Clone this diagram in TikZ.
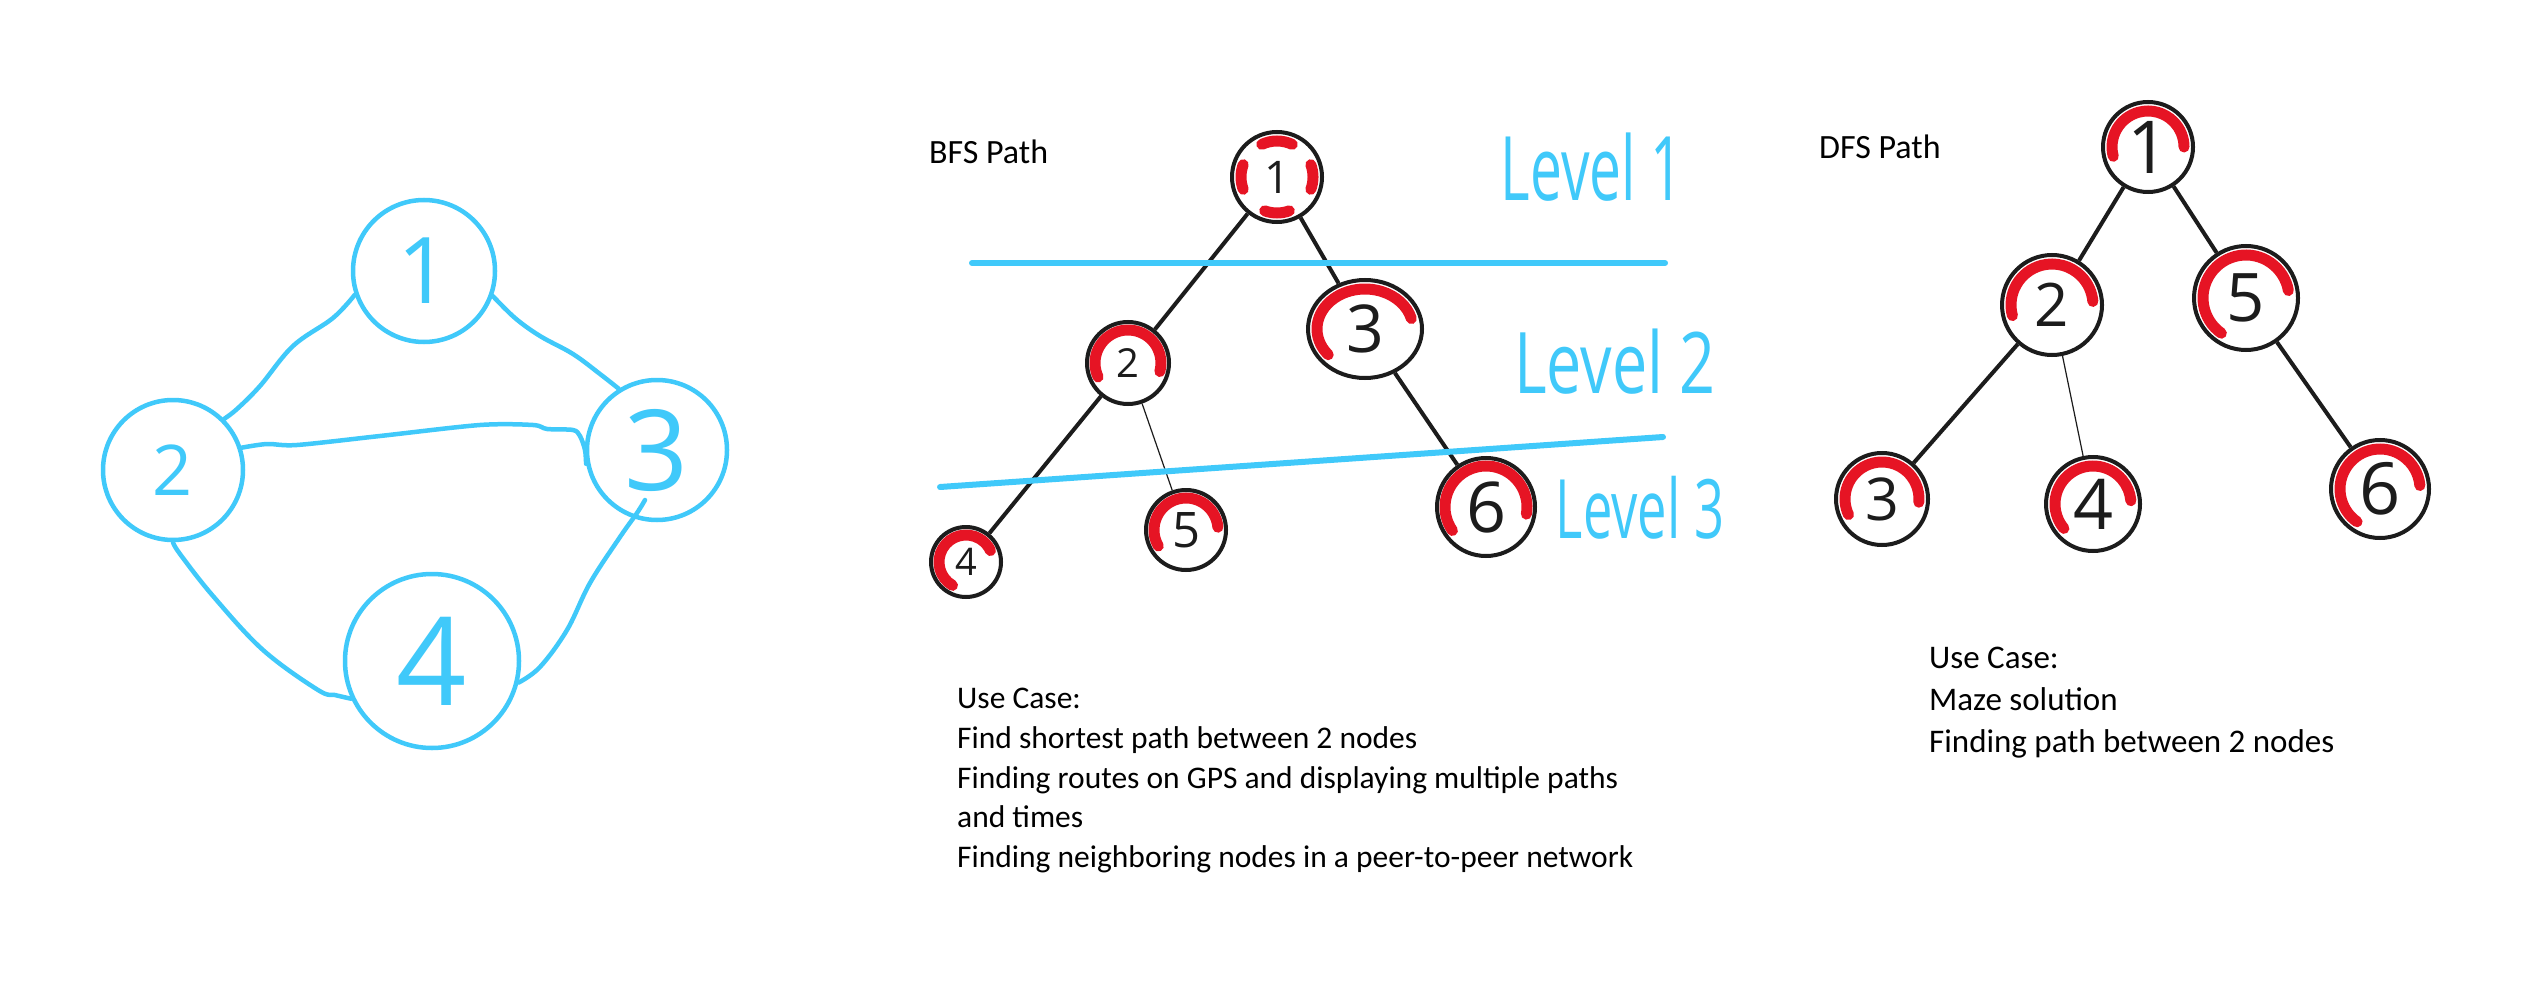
\documentclass[tikz,border=0pt]{standalone}
\usepackage{graphicx}
\usepackage{fontspec}
\setmainfont{Carlito}
\newfontfamily\handfont{Open Sans}
\newfontfamily\handA[FakeStretch=0.64]{Open Sans}
\newfontfamily\handB[FakeStretch=0.74]{Open Sans}
\usetikzlibrary{shapes.geometric}
\definecolor{skyb}{RGB}{64,201,250}
\definecolor{mred}{RGB}{230,20,36}
\definecolor{ink}{RGB}{28,28,28}
\pgfdeclarelayer{bg}
\pgfsetlayers{bg,main}
\newcommand{\redarc}[4]{\draw[redmark] (#1.center) ++(#3:#2pt) arc[start angle=#3, end angle=#4, radius=#2pt];}
\begin{document}
\begin{tikzpicture}[x=1pt,y=-1pt,
  dsz/.style={font=\handfont\fontsize{#1}{#1}\selectfont},
  gnode/.style={circle, draw=skyb, line width=4.5pt, inner sep=0pt, text=skyb},
  gedge/.style={draw=skyb, line width=4.5pt, line cap=round, line join=round},
  tnode/.style={circle, draw=ink, line width=4pt, inner sep=0pt, text=ink},
  tedge/.style={draw=ink, line width=4pt},
  thinedge/.style={draw=ink, line width=1.2pt},
  redmark/.style={draw=mred, line width=11pt, line cap=round},
  levelline/.style={draw=skyb, line width=6pt, line cap=round},
  leveltext/.style={text=skyb, inner sep=0pt},
  body/.style={anchor=base west, inner sep=0pt, text=black}
]
\useasboundingbox (0,0) rectangle (2529,992);
\begin{pgfonlayer}{bg}
\fill[white] (0,0) rectangle (2529,992);
\end{pgfonlayer}

% ---------- left graph ----------
\node[gnode, minimum size=142pt, dsz=92] (g1) at (424,271) {1};
\node[gnode, minimum size=140pt, dsz=70] (g2) at (173,470) {2};
\node[gnode, minimum size=140pt, dsz=112] (g3) at (657,450) {3};
\node[gnode, minimum size=174pt, dsz=123] (g4) at (432,661) {4};

\draw[gedge] plot[smooth, tension=0.6] coordinates {(g1.199) (333,318) (293,346) (260,386) (237,409) (g2.45)};
\draw[gedge] plot[smooth, tension=0.6] coordinates {(g1.-20) (515,318) (540,336) (573,354) (600,374) (g3.122)};
\draw[gedge] plot[smooth, tension=0.5] coordinates {(g2.18) (267,444) (297,445) (380,436) (480,425) (533,425) (547,429) (573,430) (580,436) (585,450) (g3.191)};
\draw[gedge] plot[smooth, tension=0.6] coordinates {(g2.270) (180,554) (213,596) (263,650) (318,690) (335,695) (g4.205)};
\draw[gedge] plot[smooth, tension=0.6] coordinates {(g4.-14) (540,667) (567,630) (590,583) (620,537) (637,513) ([shift={(-12,50)}]g3.center)};

% ---------- BFS tree ----------
\node[body, font=\fontsize{34}{40}\selectfont] (bfsT) at (929,164) {BFS Path};
\node[tnode, minimum size=90pt, dsz=45] (b1) at (1277,177) {1};
\node[tnode, minimum size=82pt, dsz=40] (b2) at (1128,363) {2};
\node[tnode, ellipse, minimum width=114pt, minimum height=98pt, dsz=66] (b3) at (1365,329) {3};
\node[tnode, minimum size=70pt, dsz=38] (b4) at (966,562) {4};
\node[tnode, minimum size=80pt, dsz=49] (b5) at (1186,530) {5};
\node[tnode, minimum size=98pt, dsz=70] (b6) at (1486,507) {6};

\begin{pgfonlayer}{bg}
\redarc{b1}{36}{115}{65}
\redarc{b1}{36}{200}{160}
\redarc{b1}{36}{20}{-20}
\redarc{b1}{36}{290}{250}
\redarc{b2}{33}{205}{-15}
\draw[redmark] (b3.center) ++({48pt*cos(220)},{40pt*sin(220)}) arc[start angle=220, end angle=15, x radius=48pt, y radius=40pt];
\redarc{b4}{27}{240}{25}
\redarc{b5}{32}{210}{5}
\redarc{b6}{41}{215}{-10}
\end{pgfonlayer}

\draw[tedge] (b1) -- (b2);
\draw[tedge] (b1) -- (b3);
\draw[tedge] (b2) -- (b4);
\draw[thinedge] (b2) -- (b5);
\draw[tedge] (b3) -- (b6);

\draw[levelline] (972,263) -- (1665,263);
\draw[levelline] (940,487) -- (1663,437);

\node[leveltext, font=\handA\fontsize{89}{89}\selectfont] (lv1) at (1592,167) {Level 1};
\node[leveltext, font=\handB\fontsize{85}{85}\selectfont] (lv2) at (1615,362) {Level 2};
\node[leveltext, font=\handA\fontsize{82}{82}\selectfont] (lv3) at (1640,508) {Level 3};

\node[body, font=\fontsize{31.5}{38}\selectfont] (bu1) at (957,708) {Use Case:};
\node[body, font=\fontsize{31.5}{38}\selectfont] (bu2) at (957,748) {Find shortest path between 2 nodes};
\node[body, font=\fontsize{31.5}{38}\selectfont] (bu3) at (957,788) {Finding routes on GPS and displaying multiple paths};
\node[body, font=\fontsize{31.5}{38}\selectfont] (bu4) at (957,827) {and times};
\node[body, font=\fontsize{31.5}{38}\selectfont] (bu5) at (957,867) {Finding neighboring nodes in a peer-to-peer network};

% ---------- DFS tree ----------
\node[body, font=\fontsize{34}{40}\selectfont] (dfsT) at (1819,159) {DFS Path};
\node[tnode, minimum size=90pt, dsz=73] (d1) at (2148,147) {1};
\node[tnode, minimum size=100pt, dsz=60] (d2) at (2052,305) {2};
\node[tnode, minimum size=92pt, dsz=59] (d3) at (1882,499) {3};
\node[tnode, minimum size=94pt, dsz=70] (d4) at (2093,504) {4};
\node[tnode, minimum size=104pt, dsz=67] (d5) at (2246,298) {5};
\node[tnode, minimum size=98pt, dsz=72] (d6) at (2380,489) {6};

\begin{pgfonlayer}{bg}
\redarc{d1}{36}{195}{0}
\redarc{d2}{41}{195}{5}
\redarc{d3}{37}{205}{-5}
\redarc{d4}{38}{220}{5}
\redarc{d5}{43}{235}{10}
\redarc{d6}{40}{235}{5}
\end{pgfonlayer}

\draw[tedge] (d1) -- (d2);
\draw[tedge] (d1) -- (d5);
\draw[tedge] (d2) -- (d3);
\draw[thinedge] (d2) -- (d4);
\draw[tedge] (d5) -- (d6);

\node[body, font=\fontsize{33}{40}\selectfont] (du1) at (1929,668) {Use Case:};
\node[body, font=\fontsize{33}{40}\selectfont] (du2) at (1929,710) {Maze solution};
\node[body, font=\fontsize{33}{40}\selectfont] (du3) at (1929,752) {Finding path between 2 nodes};
\end{tikzpicture}
\end{document}
